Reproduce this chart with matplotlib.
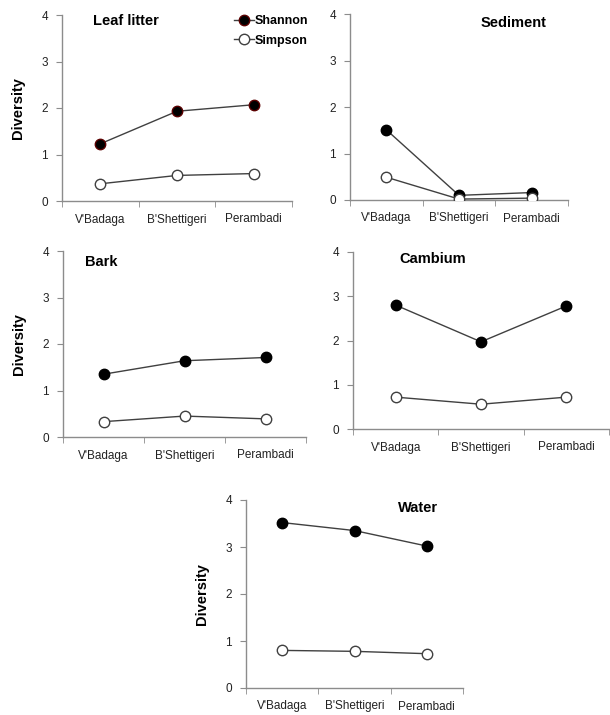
import matplotlib.pyplot as plt

plt.rcParams['font.family'] = ['Liberation Sans', 'DejaVu Sans']

sites = ["V'Badaga", "B'Shettigeri", "Perambadi"]
yticks = [0, 1, 2, 3, 4]

panels = ["Leaf litter", "Sediment", "Bark", "Cambium", "Water"]
shannon = {
    "Leaf litter": [1.23, 1.93, 2.07],
    "Sediment": [1.51, 0.10, 0.16],
    "Bark": [1.35, 1.64, 1.71],
    "Cambium": [2.80, 1.97, 2.78],
    "Water": [3.52, 3.35, 3.02],
}
simpson = {
    "Leaf litter": [0.37, 0.55, 0.59],
    "Sediment": [0.49, 0.02, 0.04],
    "Bark": [0.33, 0.45, 0.39],
    "Cambium": [0.72, 0.56, 0.72],
    "Water": [0.80, 0.78, 0.73],
}

W, H = 610, 715
# pixel boxes: x_left, x_right, y_top(=4), y_bottom(=0)
boxes = {
    "Leaf litter": (62, 292, 15, 201),
    "Sediment": (350, 568, 14, 200),
    "Bark": (63, 306, 251, 437),
    "Cambium": (353, 609, 252, 429),
    "Water": (246, 463, 500, 688),
}
# title placement in axes fraction (x, y, ha)
titles = {
    "Leaf litter": (0.135, 0.97, 'left'),
    "Sediment": (0.75, 0.95, 'center'),
    "Bark": (0.09, 0.94, 'left'),
    "Cambium": (0.18, 0.96, 'left'),
    "Water": (0.70, 0.96, 'left'),
}
ylabel_panels = ["Leaf litter", "Bark", "Water"]

fig = plt.figure(figsize=(W / 100, H / 100), dpi=100)
line_col = '#404040'
axis_col = '#8c8c8c'

for name in panels:
    x0, x1, yt, yb = boxes[name]
    ax = fig.add_axes([x0 / W, 1 - yb / H, (x1 - x0) / W, (yb - yt) / H])
    xs = range(len(sites))
    sh_edge = '#5a0000' if name == "Leaf litter" else 'black'
    ax.plot(xs, shannon[name], color=line_col, lw=1, marker='o', ms=7.5,
            mfc='black', mec=sh_edge, mew=1, label='Shannon', zorder=3)
    ax.plot(xs, simpson[name], color=line_col, lw=1, marker='o', ms=7.5,
            mfc='white', mec=line_col, mew=1, label='Simpson', zorder=3)
    ax.set_xlim(-0.5, 2.5)
    ax.set_ylim(0, 4)
    ax.set_yticks(yticks)
    ax.set_xticks(list(xs))
    ax.set_xticklabels(sites)
    ax.set_xticks([-0.5, 0.5, 1.5, 2.5], minor=True)
    ax.tick_params(axis='x', which='major', length=0, pad=9, labelsize=8.5, labelcolor='#222222')
    ax.tick_params(axis='x', which='minor', length=4, color=axis_col, direction='out')
    ax.tick_params(axis='y', length=4, color=axis_col, labelsize=8.5, labelcolor='#222222', pad=6)
    for s in ['top', 'right']:
        ax.spines[s].set_visible(False)
    for s in ['left', 'bottom']:
        ax.spines[s].set_color(axis_col)
        ax.spines[s].set_linewidth(1)
    tx, ty, ha = titles[name]
    ax.text(tx, ty, name, transform=ax.transAxes, ha=ha, va='center',
            fontsize=10.5, fontweight='bold')
    if name in ylabel_panels:
        ax.set_ylabel('Diversity', fontsize=10.5, fontweight='bold', labelpad=12)
    if name == "Leaf litter":
        ax.legend(loc='upper right', bbox_to_anchor=(1.12, 1.06), frameon=False,
                  handlelength=1.6, handletextpad=0.1, labelspacing=0.6,
                  prop={'weight': 'bold', 'size': 9})

fig.savefig('out.png', dpi=100)
